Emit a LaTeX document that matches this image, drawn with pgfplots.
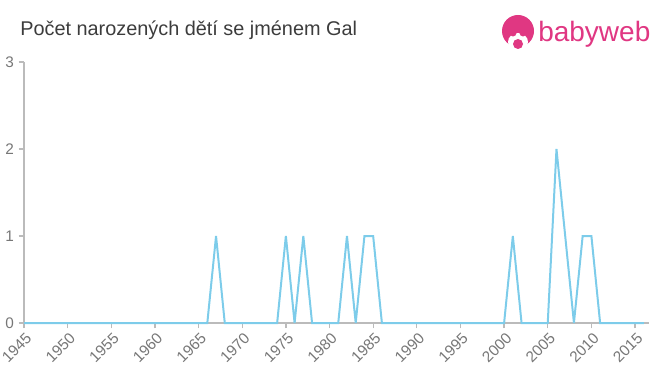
\documentclass[border=0pt]{standalone}
\usepackage{pgfplots}
\pgfplotsset{compat=1.18}
\usepackage{fontspec}
\setmainfont{Liberation Sans}
\definecolor{lineblue}{RGB}{125,204,234}
\definecolor{axisgray}{RGB}{187,187,187}
\definecolor{labelgray}{RGB}{119,119,119}
\definecolor{titlegray}{RGB}{60,60,60}
\definecolor{pink}{RGB}{224,55,130}
\begin{document}
\begin{tikzpicture}
\useasboundingbox (0pt,0pt) rectangle (495pt,281.25pt);
\begin{axis}[
  at={(18pt,39pt)}, anchor=south west,
  scale only axis, width=468.75pt, height=195.75pt,
  xmin=1945, xmax=2016.6, ymin=0, ymax=3,
  axis x line*=bottom, axis y line*=left,
  axis line style={axisgray, line width=1.2pt, -},
  xtick={1945,1950,...,2015}, ytick={0,1,2,3},
  x tick label style={/pgf/number format/1000 sep={}, rotate=45, anchor=north east, font=\fontsize{11.5}{12}\selectfont, text=labelgray, inner sep=1pt},
  y tick label style={font=\fontsize{11.5}{12}\selectfont, text=labelgray},
  /pgf/number format/assume math mode=true,
  tick style={axisgray, line width=1pt},
  major tick length=4pt,
  tick align=outside,
  xticklabel style={yshift=-1pt},
  clip=false,
]
\addplot[lineblue, line width=1.5pt, line join=miter] coordinates {
(1945,0)(1966,0)(1967,1)(1968,0)(1974,0)(1975,1)(1976,0)(1977,1)(1978,0)
(1981,0)(1982,1)(1983,0)(1984,1)(1985,1)(1986,0)(2000,0)(2001,1)(2002,0)
(2005,0)(2006,2)(2008,0)(2009,1)(2010,1)(2011,0)(2016,0)};
\end{axis}
\node[anchor=west, text=titlegray, font=\fontsize{14.9}{16}\selectfont] at (11.7pt,258.75pt) {Počet narozených dětí se jménem Gal};
% logo
\fill[pink] (388.5pt,258pt) circle (12pt);
\fill[white] (388.5pt,249.75pt) ellipse (7.5pt and 6.75pt);
\fill[pink] (384.75pt,256.5pt) circle (2.6pt);
\fill[pink] (392.25pt,256.5pt) circle (2.6pt);
\fill[pink] (388.5pt,248.25pt) circle (3.75pt);
\node[anchor=west, text=pink, font=\fontsize{21}{22}\selectfont, inner sep=0] at (403.5pt,255.75pt) {babyweb};
\end{tikzpicture}
\end{document}
